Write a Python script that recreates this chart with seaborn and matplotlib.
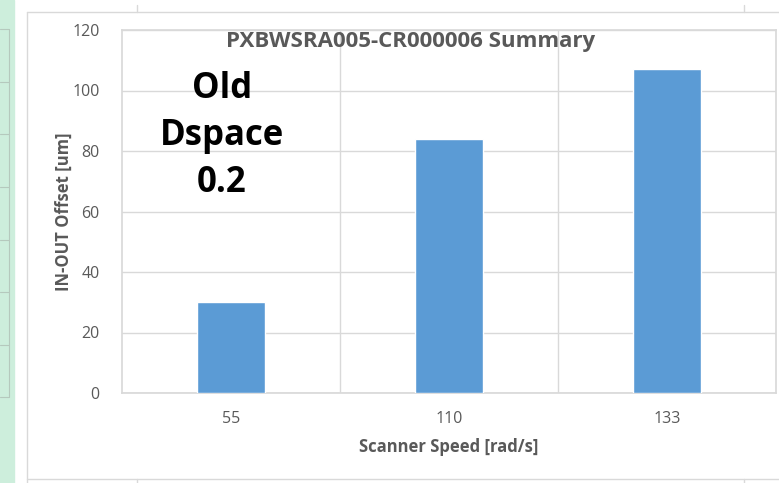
import matplotlib
matplotlib.use("Agg")
import matplotlib.pyplot as plt
import seaborn as sns
import pandas as pd
from matplotlib.lines import Line2D
from matplotlib.patches import Rectangle

# data
speeds = ["55", "110", "133"]
offsets = [30, 84, 107]
y_ticks = [0, 20, 40, 60, 80, 100, 120]

df = pd.DataFrame({"speed": speeds, "offset": offsets})

sns.set_theme(style="white")
plt.rcParams["font.family"] = ["Open Sans", "DejaVu Sans"]

fig = plt.figure(figsize=(7.79, 4.83), dpi=100)
fig.patch.set_facecolor("white")


def fline(x0, x1, y0, y1, color="#d9d9d9", lw=1):
    # line in pixel coords of the screenshot
    fig.add_artist(Line2D([x0 / 779, x1 / 779], [1 - y0 / 483, 1 - y1 / 483],
                          transform=fig.transFigure, color=color, lw=lw))


# spreadsheet bits around the chart
fig.add_artist(Rectangle((0, 0), 14 / 779, 1, transform=fig.transFigure,
                         color="#cdeedc", zorder=0))
for yy in [29, 82, 134, 187, 240, 292, 345, 397]:
    fline(0, 9, yy, yy, color="#b5c9bd", lw=0.8)
fline(9, 9, 29, 397, color="#b5c9bd", lw=0.8)
fline(27, 27, 12, 483)
fline(27, 779, 12, 12)
fline(27, 779, 479, 479)
for xx in [137, 744]:
    fline(xx, xx, 5, 12)
    fline(xx, xx, 479, 483)

ax = fig.add_axes([122 / 779, 1 - 393 / 483, (776 - 122) / 779, (393 - 30) / 483])
sns.barplot(data=df, x="speed", y="offset", order=speeds, color="#5B9BD5",
            saturation=1, width=0.31, ax=ax, zorder=3)

ax.set_ylim(0, 120)
ax.set_xlim(-0.5, 2.5)
ax.set_yticks(y_ticks)
ax.set_xticks([0.5, 1.5], minor=True)
ax.grid(axis="y", color="#d9d9d9", lw=1, zorder=0)
ax.grid(axis="x", which="minor", color="#d9d9d9", lw=1, zorder=0)
for s in ax.spines.values():
    s.set_color("#d9d9d9")
ax.tick_params(axis="both", which="both", length=0, colors="#595959", labelsize=11.5)
ax.tick_params(axis="x", pad=13)
ax.tick_params(axis="y", pad=16)

ax.set_xlabel("Scanner Speed [rad/s]", color="#595959", fontsize=12,
              fontweight="bold", labelpad=8)
ax.set_ylabel("IN-OUT Offset [um]", color="#595959", fontsize=12,
              fontweight="bold", labelpad=0)

fig.text(411 / 779, 1 - 41 / 483, "PXBWSRA005-CR000006 Summary", ha="center",
         va="center", color="#595959", fontsize=16, fontweight="bold")
fig.text(222 / 779, 1 - 136 / 483, "Old\nDspace\n0.2", ha="center", va="center",
         color="black", fontsize=25, fontweight="bold", linespacing=1.42)

fig.savefig("out.png", dpi=100)
